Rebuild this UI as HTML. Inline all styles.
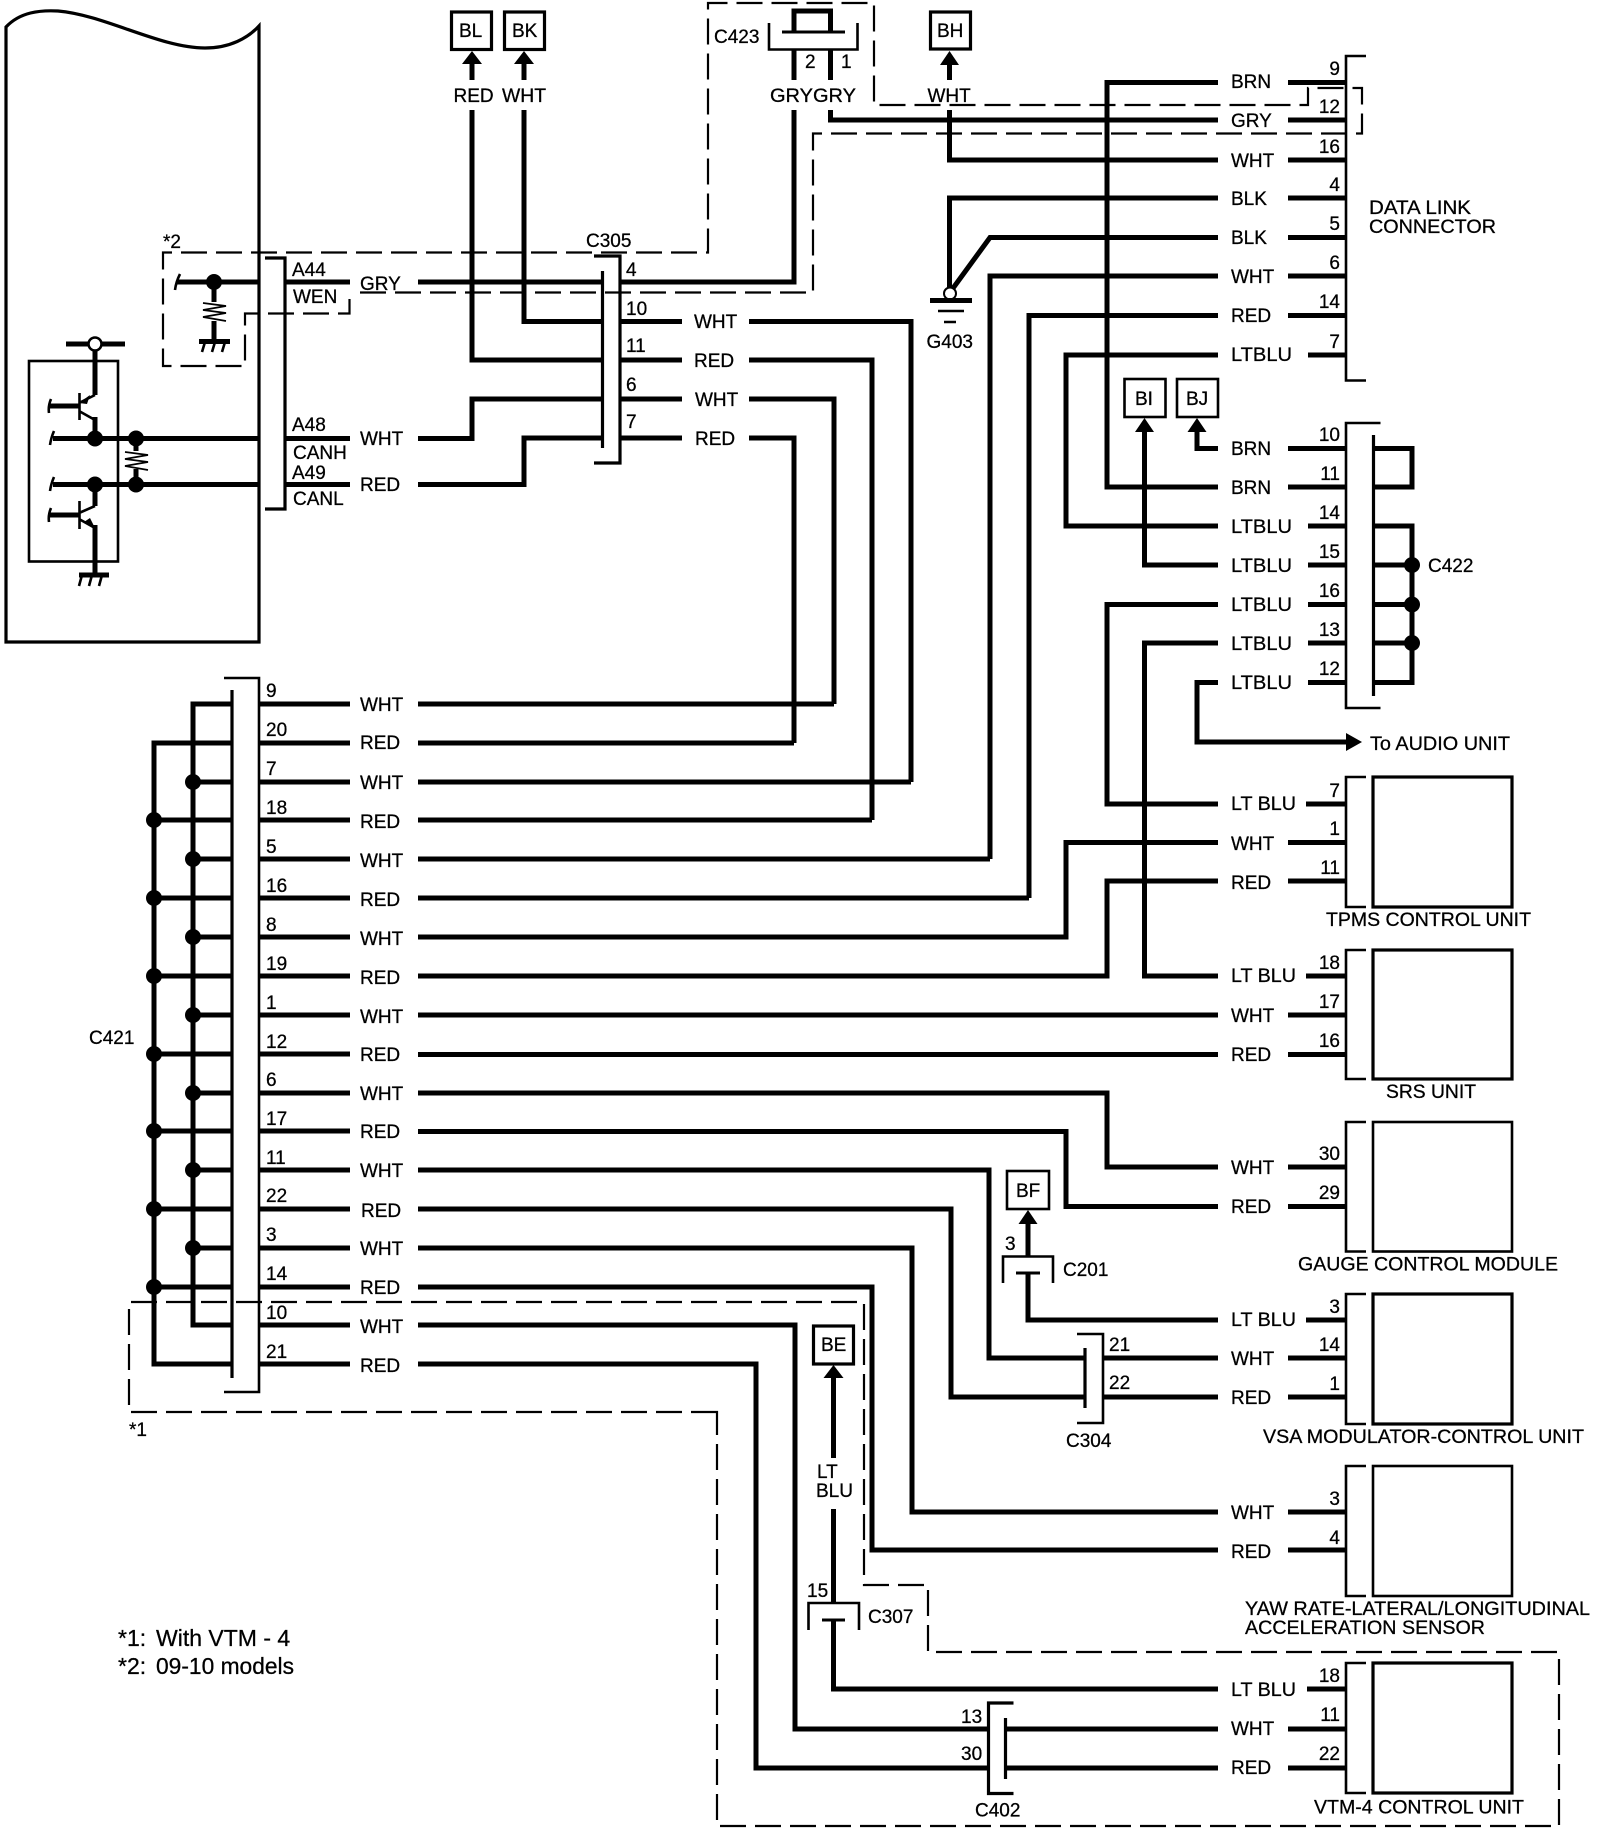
<!DOCTYPE html>
<html><head><meta charset="utf-8"><style>
html,body{margin:0;padding:0;background:#fff}
svg{display:block}
text{font-family:"Liberation Sans",sans-serif;font-size:19px;fill:#000;stroke:#000;stroke-width:.28}
.w{fill:none;stroke:#000;stroke-width:5}
.t{fill:none;stroke:#000;stroke-width:2.6}
.z{fill:none;stroke:#000;stroke-width:1.7}
.m{fill:none;stroke:#000;stroke-width:3.2}
.d{fill:none;stroke:#000;stroke-width:2.2;stroke-dasharray:26 9}
.n{text-anchor:end}
</style></head><body>
<svg width="1600" height="1840" viewBox="0 0 1600 1840" xmlns="http://www.w3.org/2000/svg">
<rect width="1600" height="1840" fill="#fff"/>

<!-- ECU outline -->
<path class="m" d="M6 27C20 12 40 10 58 11C105 15 160 48 205 48C230 48 248 38 259 26V642H6Z"/>
<rect class="t" x="29" y="361" width="89" height="200.5"/>

<!-- dashed boxes -->
<path class="d" d="M360 292.500H813V133.500H1362V88H1308V105H874V3H708V252.500H163V366H245V313.500H349.500V292.500"/>
<path class="d" d="M717 1412H129V1302H864V1585H928V1652H1559V1826H717Z"/>

<!-- internal circuitry -->
<path class="w" d="M177 282H259M66 344H125M95 344V395M53 438.500H259M53 484.500H259M50 406H79M50 515H79M95 417V438M95 484V506M95 525V575M79 575H109M199 341.500H230M214 282V302M214 321V341M136 438V451M136 469V484"/>
<path class="t" d="M79.500 393V420M79.500 501V529M79 403L95 395M79 411L95 420M79 513L95 506M79 519L95 528"/>
<path class="z" d="M203 303L226 306L203 310L226 313L203 317L226 321M125 452L148 455L125 459L148 462L125 466L148 470"/>
<path class="t" d="M82 575L79 586M92 575L89 586M102 575L99 586M205 342L202 352M215 342L212 352M225 342L222 352M180 274Q176 282 175 290M54 431Q51 438 50 445M54 477Q51 484 50 491M51 399Q48 406 49 413M51 508Q48 515 49 522"/>
<path d="M79 403L90 395L87 404ZM95 528L84 522L90 518Z" fill="#000"/>
<g fill="#000"><circle cx="214" cy="282" r="8"/><circle cx="95" cy="438.500" r="8"/><circle cx="136" cy="438.500" r="8"/><circle cx="95" cy="484.500" r="8"/><circle cx="136" cy="484.500" r="8"/></g>
<circle cx="95" cy="344" r="6.500" fill="#fff" stroke="#000" stroke-width="2.500"/>

<!-- ECU connector -->
<path class="m" d="M265 258H285V509H265"/>
<path class="w" d="M285 282H350M285 438.500H350M285 484.500H350"/>
<text x="292" y="276">A44</text><text x="293" y="303">WEN</text>
<text x="292" y="431">A48</text><text x="293" y="459">CANH</text>
<text x="292" y="479">A49</text><text x="293" y="505">CANL</text>
<text x="360" y="290">GRY</text><text x="360" y="445">WHT</text><text x="360" y="491">RED</text>
<text x="163" y="248">*2</text>

<!-- C305 -->
<path class="m" d="M594 256H620V463H594"/>
<path class="m" d="M602.500 271V448"/>
<text x="586" y="247">C305</text>
<text x="626" y="276">4</text><text x="626" y="315">10</text><text x="626" y="352">11</text><text x="626" y="391">6</text><text x="626" y="428">7</text>
<path class="w" d="M418 282H602M620 282H794V110M794 80V50M830.500 80V50M794 32V11H830.500V32M830.500 110V120H1218"/>
<path class="w" d="M472 110V360H602M524 110V321.500H602M620 321.500H682M620 360H682M620 399H682M620 438H682"/>
<path class="w" d="M418 438.500H472V399H602M418 484.500H524V438H602"/>
<path class="w" d="M749 321.500H911V782M749 360H872V820M749 399H834V704M749 438H794V743"/>
<text x="694" y="328">WHT</text><text x="694" y="367">RED</text><text x="695" y="406">WHT</text><text x="695" y="445">RED</text>

<!-- BL BK -->
<rect class="m" x="451.500" y="12" width="40" height="37.500"/><rect class="m" x="504.500" y="12" width="40" height="37.500"/>
<text x="459" y="37">BL</text><text x="512" y="37">BK</text>
<path d="M472 51L482 64H462ZM524 51L534 64H514Z" fill="#000"/>
<path class="w" d="M472 62V80M524 62V80"/>
<text x="453.500" y="102">RED</text><text x="502" y="102" textLength="44" lengthAdjust="spacingAndGlyphs">WHT</text>

<!-- C423 -->
<path class="t" d="M769 23V49.500H857.500V23"/>
<path class="w" style="stroke-width:3" d="M782 32H845"/>
<text x="714" y="43">C423</text>
<text x="805" y="68">2</text><text x="841" y="68">1</text>
<text x="770" y="102" textLength="86" lengthAdjust="spacingAndGlyphs">GRYGRY</text>

<!-- BH -->
<rect class="m" x="930.500" y="12" width="40" height="37"/><text x="937" y="37">BH</text>
<path d="M949.500 51L959 65H940Z" fill="#000"/>
<path class="w" d="M949.500 62V80M949.500 110V160H1218"/>
<text x="927.500" y="102">WHT</text>

<!-- Data link connector -->
<path class="t" d="M1366 56H1346V380.500H1366"/>
<path class="w" d="M1218 82.500H1107V487H1218M949.500 293V198H1218M949.500 293L990 237.500H1218M990 859V276H1218M1029 898V315.500H1218M1218 355H1066V526H1218"/>
<path class="w" d="M1288 82.500H1346M1288 120H1346M1288 160H1346M1288 198H1346M1288 237.500H1346M1288 276H1346M1288 315.500H1346M1308 355H1346"/>
<g>
<text x="1231" y="88">BRN</text><text x="1231" y="127">GRY</text><text x="1231" y="167">WHT</text><text x="1231" y="205">BLK</text><text x="1231" y="244">BLK</text><text x="1231" y="283">WHT</text><text x="1231" y="322">RED</text><text x="1231" y="361" textLength="61" lengthAdjust="spacingAndGlyphs">LTBLU</text>
</g>
<g class="n" text-anchor="end">
<text x="1340" y="75" text-anchor="end">9</text><text x="1340" y="113" text-anchor="end">12</text><text x="1340" y="153" text-anchor="end">16</text><text x="1340" y="191" text-anchor="end">4</text><text x="1340" y="230" text-anchor="end">5</text><text x="1340" y="269" text-anchor="end">6</text><text x="1340" y="308" text-anchor="end">14</text><text x="1340" y="348" text-anchor="end">7</text>
</g>
<text x="1369" y="214" textLength="102" lengthAdjust="spacingAndGlyphs">DATA LINK</text><text x="1369" y="233" textLength="127" lengthAdjust="spacingAndGlyphs">CONNECTOR</text>

<!-- G403 -->
<circle cx="950" cy="293.500" r="6" fill="#fff" stroke="#000" stroke-width="2"/>
<path class="w" d="M930 300.500H972"/>
<path class="t" d="M938 311H964M944 322H956"/>
<text x="926.500" y="348">G403</text>

<!-- C422 -->
<rect class="t" x="1124.500" y="379" width="41" height="38"/><rect class="t" x="1177" y="379" width="41" height="38"/>
<text x="1135" y="405">BI</text><text x="1186" y="405">BJ</text>
<path d="M1144.500 418L1154 432H1135ZM1197 418L1206.500 432H1187.500Z" fill="#000"/>
<path class="w" d="M1144.500 430V565H1218M1197 430V448.500H1218M1218 526H1066"/>
<path class="t" d="M1380.500 423H1346V708H1380.500"/>
<path class="m" d="M1373.500 435V696"/>
<path class="w" d="M1288 448.500H1346M1288 487H1346M1308 526H1346M1308 565H1346M1308 604.500H1346M1308 643H1346M1308 682.500H1346"/>
<path class="w" d="M1373.500 448.500H1412V487H1373.500M1373.500 526H1412V682.500H1373.500M1373.500 565H1412M1373.500 604.500H1412M1373.500 643H1412"/>
<g fill="#000"><circle cx="1412" cy="565" r="8"/><circle cx="1412" cy="604.500" r="8"/><circle cx="1412" cy="643" r="8"/></g>
<text x="1231" y="455">BRN</text><text x="1231" y="494">BRN</text><text x="1231" y="533" textLength="61" lengthAdjust="spacingAndGlyphs">LTBLU</text><text x="1231" y="572" textLength="61" lengthAdjust="spacingAndGlyphs">LTBLU</text><text x="1231" y="611" textLength="61" lengthAdjust="spacingAndGlyphs">LTBLU</text><text x="1231" y="650" textLength="61" lengthAdjust="spacingAndGlyphs">LTBLU</text><text x="1231" y="689" textLength="61" lengthAdjust="spacingAndGlyphs">LTBLU</text>
<text x="1340" y="441" text-anchor="end">10</text><text x="1340" y="480" text-anchor="end">11</text><text x="1340" y="519" text-anchor="end">14</text><text x="1340" y="558" text-anchor="end">15</text><text x="1340" y="597" text-anchor="end">16</text><text x="1340" y="636" text-anchor="end">13</text><text x="1340" y="675" text-anchor="end">12</text>
<text x="1428" y="572">C422</text>
<path class="w" d="M1218 604.500H1107V804H1218M1218 643H1144.500V976H1218M1218 682.500H1197V742H1348"/>
<path d="M1346 733L1362 742L1346 751Z" fill="#000"/>
<text x="1370" y="750" textLength="140" lengthAdjust="spacingAndGlyphs">To AUDIO UNIT</text>

<!-- C421 -->
<path class="t" d="M224 678H259V1392H224"/>
<path class="m" d="M232 690V1378"/>
<path class="w" d="M232 704H193V1325H232M232 743H154V1364H232"/>
<path class="w" d="M193 782H232M193 859H232M193 937H232M193 1015H232M193 1093H232M193 1170H232M193 1248H232M154 820H232M154 898H232M154 976H232M154 1054H232M154 1131H232M154 1209H232M154 1287H232"/>
<g fill="#000">
<circle cx="193" cy="782" r="8"/><circle cx="193" cy="859" r="8"/><circle cx="193" cy="937" r="8"/><circle cx="193" cy="1015" r="8"/><circle cx="193" cy="1093" r="8"/><circle cx="193" cy="1170" r="8"/><circle cx="193" cy="1248" r="8"/>
<circle cx="154" cy="820" r="8"/><circle cx="154" cy="898" r="8"/><circle cx="154" cy="976" r="8"/><circle cx="154" cy="1054" r="8"/><circle cx="154" cy="1131" r="8"/><circle cx="154" cy="1209" r="8"/><circle cx="154" cy="1287" r="8"/>
</g>
<path class="w" d="M259 704H350M259 743H350M259 782H350M259 820H350M259 859H350M259 898H350M259 937H350M259 976H350M259 1015H350M259 1054H350M259 1093H350M259 1131H350M259 1170H350M259 1209H350M259 1248H350M259 1287H350M259 1325H350M259 1364H350"/>
<g>
<text x="266" y="697">9</text><text x="266" y="736">20</text><text x="266" y="775">7</text><text x="266" y="814">18</text><text x="266" y="853">5</text><text x="266" y="892">16</text><text x="266" y="931">8</text><text x="266" y="970">19</text><text x="266" y="1009">1</text><text x="266" y="1048">12</text><text x="266" y="1086">6</text><text x="266" y="1125">17</text><text x="266" y="1164">11</text><text x="266" y="1202">22</text><text x="266" y="1241">3</text><text x="266" y="1280">14</text><text x="266" y="1319">10</text><text x="266" y="1358">21</text>
</g>
<g>
<text x="360" y="711">WHT</text><text x="360" y="749">RED</text><text x="360" y="789">WHT</text><text x="360" y="828">RED</text><text x="360" y="867">WHT</text><text x="360" y="906">RED</text><text x="360" y="945">WHT</text><text x="360" y="984">RED</text><text x="360" y="1023">WHT</text><text x="360" y="1061">RED</text><text x="360" y="1100">WHT</text><text x="360" y="1138">RED</text><text x="360" y="1177">WHT</text><text x="361" y="1217">RED</text><text x="360" y="1255">WHT</text><text x="360" y="1294">RED</text><text x="360" y="1333">WHT</text><text x="360" y="1372">RED</text>
</g>
<text x="89" y="1044">C421</text>
<text x="129" y="1436">*1</text>

<!-- Long wires -->
<path class="w" d="M418 704H834M418 743H794M418 782H911M418 820H872M418 859H990M418 898H1029M418 937H1066V842.500H1218M418 976H1107V881H1218M418 1015H1218M418 1054.500H1218"/>
<path class="w" d="M418 1093H1107V1167H1218M418 1131.500H1066V1206.500H1218M418 1170H989V1358H1085M1103 1358H1218M418 1209H951V1397H1085M1103 1397H1218M418 1248H912V1512H1218M418 1287H872V1550H1218M418 1325H795V1729H988M1005 1729H1218M418 1364H756V1768H988M1005 1768H1218"/>

<!-- Modules -->
<g>
<path class="t" d="M1366 777H1346V907H1366M1366 950H1346V1079H1366M1366 1122H1346V1251.500H1366M1366 1294H1346V1424H1366M1366 1466H1346V1596H1366M1366 1663H1346V1793H1366"/>
<rect class="m" x="1373" y="777" width="139" height="130"/>
<rect class="m" x="1373" y="950" width="139" height="129"/>
<rect class="t" x="1373" y="1122" width="139" height="129.500"/>
<rect class="m" x="1373" y="1294" width="139" height="130"/>
<rect class="t" x="1373" y="1466" width="139" height="130"/>
<rect class="m" x="1373" y="1663" width="139" height="130"/>
</g>
<path class="w" d="M1306 804H1346M1288 842.500H1346M1288 881H1346M1306 976H1346M1288 1015H1346M1288 1054.500H1346M1288 1167H1346M1288 1206.500H1346M1306 1320H1346M1288 1358H1346M1288 1397H1346M1288 1512H1346M1288 1550H1346M1307 1689H1346M1288 1729H1346M1288 1768H1346"/>
<g>
<text x="1231" y="810" textLength="65" lengthAdjust="spacingAndGlyphs">LT BLU</text><text x="1231" y="850">WHT</text><text x="1231" y="889">RED</text>
<text x="1231" y="982" textLength="65" lengthAdjust="spacingAndGlyphs">LT BLU</text><text x="1231" y="1022">WHT</text><text x="1231" y="1061">RED</text>
<text x="1231" y="1174">WHT</text><text x="1231" y="1213">RED</text>
<text x="1231" y="1326" textLength="65" lengthAdjust="spacingAndGlyphs">LT BLU</text><text x="1231" y="1365">WHT</text><text x="1231" y="1404">RED</text>
<text x="1231" y="1519">WHT</text><text x="1231" y="1558">RED</text>
<text x="1231" y="1696" textLength="65" lengthAdjust="spacingAndGlyphs">LT BLU</text><text x="1231" y="1735">WHT</text><text x="1231" y="1774">RED</text>
</g>
<g>
<text x="1340" y="797" text-anchor="end">7</text><text x="1340" y="835" text-anchor="end">1</text><text x="1340" y="874" text-anchor="end">11</text>
<text x="1340" y="969" text-anchor="end">18</text><text x="1340" y="1008" text-anchor="end">17</text><text x="1340" y="1047" text-anchor="end">16</text>
<text x="1340" y="1160" text-anchor="end">30</text><text x="1340" y="1199" text-anchor="end">29</text>
<text x="1340" y="1313" text-anchor="end">3</text><text x="1340" y="1351" text-anchor="end">14</text><text x="1340" y="1390" text-anchor="end">1</text>
<text x="1340" y="1505" text-anchor="end">3</text><text x="1340" y="1544" text-anchor="end">4</text>
<text x="1340" y="1682" text-anchor="end">18</text><text x="1340" y="1721" text-anchor="end">11</text><text x="1340" y="1760" text-anchor="end">22</text>
</g>
<text x="1326" y="926" textLength="205" lengthAdjust="spacingAndGlyphs">TPMS CONTROL UNIT</text>
<text x="1386" y="1098" textLength="90" lengthAdjust="spacingAndGlyphs">SRS UNIT</text>
<text x="1298" y="1270.500" textLength="260" lengthAdjust="spacingAndGlyphs">GAUGE CONTROL MODULE</text>
<text x="1263" y="1443" textLength="321" lengthAdjust="spacingAndGlyphs">VSA MODULATOR-CONTROL UNIT</text>
<text x="1245" y="1615" textLength="345" lengthAdjust="spacingAndGlyphs">YAW RATE-LATERAL/LONGITUDINAL</text>
<text x="1245" y="1634" textLength="240" lengthAdjust="spacingAndGlyphs">ACCELERATION SENSOR</text>
<text x="1314" y="1813.500" textLength="210" lengthAdjust="spacingAndGlyphs">VTM-4 CONTROL UNIT</text>

<!-- BF / C201 -->
<rect class="t" x="1007" y="1171" width="42" height="38"/><text x="1016" y="1197">BF</text>
<path d="M1028 1210L1037.500 1224H1018.500Z" fill="#000"/>
<path class="w" d="M1028 1222V1256M1028 1273V1320H1218"/>
<path class="t" d="M1003 1283V1256.500H1053V1283"/>
<path class="w" style="stroke-width:3" d="M1016 1273H1040"/>
<text x="1005" y="1250">3</text><text x="1063" y="1276">C201</text>

<!-- C304 -->
<path class="t" d="M1077 1334H1103V1423H1077"/>
<path class="m" d="M1085 1348V1408"/>
<text x="1109" y="1351">21</text><text x="1109" y="1389">22</text><text x="1066" y="1447">C304</text>

<!-- BE / C307 -->
<rect class="m" x="813.500" y="1326" width="40" height="38"/><text x="821" y="1351">BE</text>
<path d="M833.500 1365L843.500 1378H823.500Z" fill="#000"/>
<path class="w" d="M833.500 1376V1458M833.500 1509V1603M833.500 1620V1689H1218"/>
<text x="817" y="1478">LT</text><text x="816" y="1497">BLU</text>
<path class="t" d="M808.500 1630V1603H859V1630"/>
<path class="w" style="stroke-width:3" d="M822 1620H845"/>
<text x="807" y="1597">15</text><text x="868" y="1623">C307</text>

<!-- C402 -->
<path class="m" d="M1013.500 1703H988.500V1793.500H1013.500"/>
<path class="m" d="M1005.500 1718V1779"/>
<text x="961" y="1723">13</text><text x="961" y="1760">30</text><text x="975" y="1816.500">C402</text>

<!-- Legend -->
<text x="118" y="1646" style="font-size:23px">*1:</text><text x="156" y="1646" style="font-size:23px">With VTM - 4</text>
<text x="118" y="1674" style="font-size:23px">*2:</text><text x="156" y="1674" style="font-size:23px" textLength="138" lengthAdjust="spacingAndGlyphs">09-10 models</text>
</svg>
</body></html>
